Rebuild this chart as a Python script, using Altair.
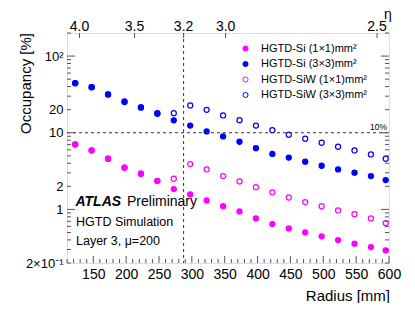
import numpy as np
import pandas as pd
import altair as alt

FONT = "Liberation Sans"

# ---------------- data ----------------
radius = [122.5, 147.5, 172.5, 197.5, 222.5, 247.5, 272.5, 297.5, 322.5, 347.5,
          372.5, 397.5, 422.5, 447.5, 472.5, 497.5, 522.5, 547.5, 572.5, 595.0]

si_1x1 = [7.04, 5.88, 4.58, 3.50, 2.92, 2.34, 1.84, 1.57, 1.31, 1.10,
          0.942, 0.763, 0.643, 0.565, 0.501, 0.445, 0.398, 0.357, 0.323, 0.292]
si_3x3 = [44.3, 39.3, 31.6, 25.1, 21.4, 17.7, 14.5, 12.4, 10.4, 8.95,
          7.63, 6.30, 5.29, 4.74, 4.19, 3.71, 3.32, 3.01, 2.72, 2.41]
siw_1x1 = [7.04, 5.88, 4.58, 3.50, 2.92, 2.36, 2.51, 3.90, 3.32, 2.72,
           2.32, 1.95, 1.67, 1.43, 1.245, 1.10, 0.97, 0.868, 0.763, 0.663]
siw_3x3 = [44.3, 39.3, 31.6, 25.6, 21.4, 18.0, 18.0, 22.7, 19.9, 16.8,
           14.6, 12.4, 10.8, 9.42, 8.35, 7.41, 6.57, 5.88, 5.21, 4.58]

series_names = ["HGTD-Si (1×1)mm²", "HGTD-Si (3×3)mm²",
                "HGTD-SiW (1×1)mm²", "HGTD-SiW (3×3)mm²"]
series_values = [si_1x1, si_3x3, siw_1x1, siw_3x3]
series_fill = ["#ff00ff", "#0000ff", "transparent", "transparent"]
series_stroke = ["#ff00ff", "#0000ff", "#ff00ff", "#0000ff"]
series_size = [26, 26, 56, 56]

x_tick_values = [150, 200, 250, 300, 350, 400, 450, 500, 550, 600]
y_tick_values = [0.2, 1, 2, 10, 20, 100]
y_tick_labels = ["2×10⁻¹", "1", "2", "10", "20", "10²"]

eta_ticks = [4.0, 3.5, 3.2, 3.0, 2.5]
eta_labels = ["4.0", "3.5", "3.2", "3.0", "2.5"]
z_layer = 3520.0  # mm, used to convert eta into radius for the top axis
eta_line = 3.2
threshold = 10.0

x_domain = [110, 600]
y_domain = [0.2, 200]
W, H = 322, 230

texts_atlas = ["ATLAS"]
texts_prelim = ["Preliminary"]
texts_sim = ["HGTD Simulation"]
texts_layer = ["Layer 3, μ=200"]
y_title = ["Occupancy [%]"]
x_title = ["Radius [mm]"]
eta_title = ["η"]
thr_label = ["10%"]

# ---------------- tables ----------------
rows = []
for name, vals in zip(series_names, series_values):
    for r, v in zip(radius, vals):
        rows.append({"r": r, "occ": v, "series": name})
df = pd.DataFrame(rows)


def eta_to_r(eta):
    return z_layer * np.tan(2 * np.arctan(np.exp(-np.asarray(eta))))


eta_df = pd.DataFrame({"r": eta_to_r(eta_ticks), "label": eta_labels})
vline_df = pd.DataFrame({"r": [float(eta_to_r(eta_line))]})
hline_df = pd.DataFrame({"occ": [threshold]})

x_major = pd.DataFrame({"r": x_tick_values})
x_minor = pd.DataFrame({"r": [v for v in range(110, 601, 10) if v % 50 != 0]})
y_major = pd.DataFrame({"occ": [1, 10, 100]})
y_minor_vals = []
for dec in [0.1, 1, 10, 100]:
    for m in range(2, 10):
        v = round(m * dec, 6)
        if y_domain[0] <= v <= y_domain[1]:
            y_minor_vals.append(v)
y_minor = pd.DataFrame({"occ": y_minor_vals})

xs = alt.Scale(domain=x_domain, nice=False, zero=False)
ys = alt.Scale(type="log", domain=y_domain, nice=False)

label_expr = "{" + ",".join(f"'{v}':'{l}'" for v, l in zip(y_tick_values, y_tick_labels)) + "}[datum.value]"

x_axis = alt.Axis(values=x_tick_values, ticks=False, domain=False, grid=False,
                  labelFontSize=14, labelPadding=4, labelColor="black",
                  labelFont=FONT, format="d", labelOverlap=False, labelFlush=False)
y_axis = alt.Axis(values=y_tick_values, ticks=False, domain=False, grid=False,
                  labelFontSize=13, labelPadding=4, labelColor="black",
                  labelFont=FONT, labelExpr=label_expr, labelOverlap=False, labelFlush=False)
X = alt.X("r:Q", scale=xs, title=None, axis=x_axis)
Y = alt.Y("occ:Q", scale=ys, title=None, axis=y_axis)

points = alt.Chart(df).mark_point(filled=False, opacity=1, strokeWidth=1.2, shape="circle").encode(
    x=X, y=Y,
    fill=alt.Fill("series:N", scale=alt.Scale(domain=series_names, range=series_fill),
                  legend=alt.Legend(title=None, orient="none", legendX=173, legendY=10,
                                    labelFontSize=11, labelFont=FONT, labelColor="black",
                                    rowPadding=3.5, labelOffset=10, padding=0,
                                    symbolStrokeWidth=1)),
    stroke=alt.Stroke("series:N", scale=alt.Scale(domain=series_names, range=series_stroke)),
    size=alt.Size("series:N", scale=alt.Scale(domain=series_names, range=series_size)),
)

dash_color = "#333333"
hline = alt.Chart(hline_df).mark_rule(strokeDash=[3, 3], color=dash_color, strokeWidth=1).encode(
    y=Y, x=alt.value(0), x2=alt.value(W))
vline = alt.Chart(vline_df).mark_rule(strokeDash=[3, 3], color=dash_color, strokeWidth=1).encode(
    x=X, y=alt.value(0), y2=alt.value(H))

tick_color = "#555555"


def vticks(d, y0, y1):
    return alt.Chart(d).mark_rule(color=tick_color, strokeWidth=1).encode(
        x=X, y=alt.value(y0), y2=alt.value(y1))


def hticks(d, x0, x1):
    return alt.Chart(d).mark_rule(color=tick_color, strokeWidth=1).encode(
        y=Y, x=alt.value(x0), x2=alt.value(x1))


ticks = [
    vticks(x_major, H, H - 7), vticks(x_minor, H, H - 4),
    hticks(y_major, 0, 8), hticks(y_minor, 0, 4),
    hticks(y_major, W - 8, W), hticks(y_minor, W - 4, W),
    vticks(eta_df, 0, 5),
]

eta_text = alt.Chart(eta_df).mark_text(baseline="alphabetic", fontSize=14, font=FONT, color="black").encode(
    x=X, y=alt.value(-2), text="label:N")


def label(txt, x, y, **kw):
    return alt.Chart(pd.DataFrame({"t": txt})).mark_text(font=FONT, color="black", **kw).encode(
        x=alt.value(x), y=alt.value(y), text="t:N")


labels = [
    label(texts_atlas, 8.5, 173, align="left", baseline="alphabetic", fontSize=14,
          fontWeight="bold", fontStyle="italic"),
    label(texts_prelim, 60, 173, align="left", baseline="alphabetic", fontSize=14),
    label(texts_sim, 9, 193, align="left", baseline="alphabetic", fontSize=12.5),
    label(texts_layer, 9, 212, align="left", baseline="alphabetic", fontSize=12.5),
    label(y_title, -36, 0, align="right", baseline="alphabetic", fontSize=15, angle=270),
    label(x_title, W + 1, 268, align="right", baseline="alphabetic", fontSize=15),
    label(eta_title, W - 1, -14, align="center", baseline="alphabetic", fontSize=14),
    label(thr_label, W - 2, 97, align="right", baseline="alphabetic", fontSize=8.5),
]

chart = alt.layer(points, hline, vline, *ticks, eta_text, *labels).properties(
    width=W, height=H,
    padding={"left": 59, "top": 25, "right": 14, "bottom": 40},
    autosize=alt.AutoSizeParams(type="none"),
).configure_view(stroke="#555555", strokeWidth=1).configure(font=FONT)

chart.save("out.html", embed_options={"renderer": "svg", "actions": False})
